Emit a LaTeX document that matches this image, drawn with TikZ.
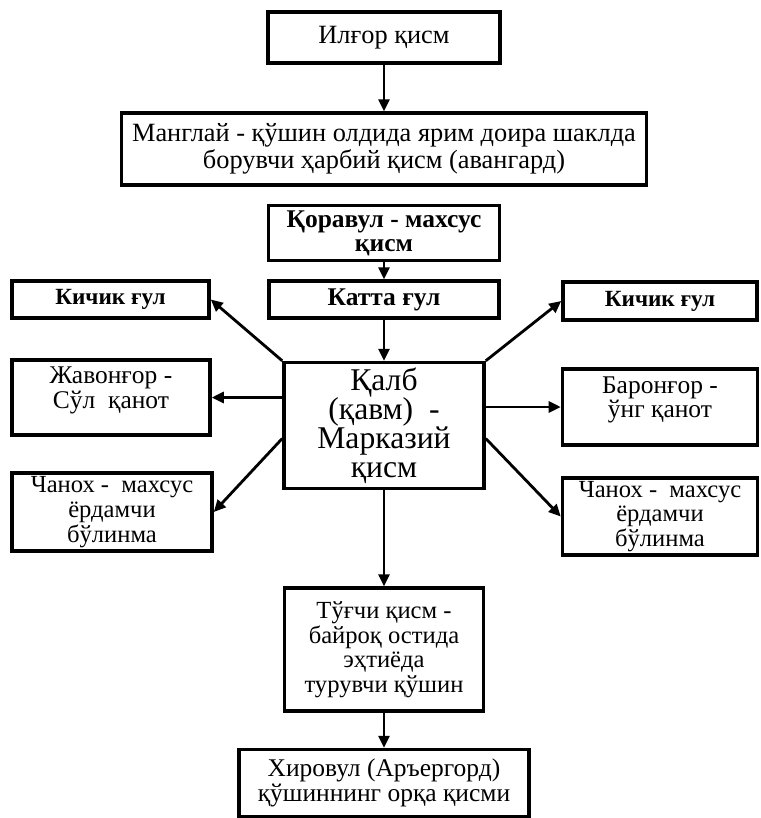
\documentclass[tikz,border=0pt]{standalone}
\usepackage{fontspec}
\setmainfont{Liberation Serif}
\usetikzlibrary{positioning,arrows.meta,calc}
\tikzset{
  flow/.style={-{Triangle[length=2.4mm,width=2.2mm]},line width=1.6pt,draw=black},
  box/.style={draw=black,line width=2pt,fill=white,align=center,inner sep=1pt,
    font=\fontsize{15}{15.3}\selectfont},
  midbox/.style={box,font=\fontsize{14.5}{14}\selectfont},
  smallbox/.style={box,font=\fontsize{14}{14}\selectfont},
  boldbox/.style={box,font=\fontsize{14.5}{13.6}\selectfont\bfseries},
  sidebold/.style={box,font=\fontsize{13.2}{14}\selectfont\bfseries},
  bigbox/.style={box,font=\fontsize{18}{16.5}\selectfont},
  toptext/.style={text depth=0.4cm}
}

\begin{document}
\begin{tikzpicture}[node distance=0.34cm]
  \useasboundingbox (0,0) rectangle (15.2,-16.36);
  \node[box,minimum width=4.64cm,minimum height=1.02cm] (ilgor) at (7.68,-0.75) {Илғор қисм};
  \node[box,below=0.93cm of ilgor,minimum width=10.5cm,minimum height=1.44cm] (manglay)
    {Манглай - қўшин олдида ярим доира шаклда\\борувчи ҳарбий қисм (авангард)};
  \node[boldbox,below=of manglay,minimum width=4.62cm,minimum height=1.1cm] (qoravul)
    {Қоравул - махсус\\қисм};
  \node[boldbox,below=of qoravul,minimum width=4.6cm,minimum height=0.74cm] (katta) {Катта ғул};
  \node[bigbox,below=0.82cm of katta,minimum width=4.0cm,minimum height=2.52cm] (qalb)
    {Қалб\\(қавм)~~-\\Марказий\\қисм};
  \node[smallbox,below=1.92cm of qalb,minimum width=3.98cm,minimum height=2.46cm] (tugchi)
    {Тўғчи қисм -\\байроқ остида\\эҳтиёда\\турувчи қўшин};
  \node[midbox,below=0.7cm of tugchi,minimum width=5.8cm,minimum height=1.34cm] (xirovul)
    {Хировул (Аръергорд)\\қўшиннинг орқа қисми};
  \node[sidebold,minimum width=3.94cm,minimum height=0.74cm] (lkichik) at (2.21,-5.99) {Кичик ғул};
  \node[midbox,toptext,minimum width=3.96cm,minimum height=1.5cm] (ljavon) at (2.22,-7.95)
    {Жавонғор -\\Сўл~~қанот};
  \node[smallbox,minimum width=4.0cm,minimum height=1.56cm] (lchanox) at (2.24,-10.24)
    {Чанох -~~махсус\\ёрдамчи\\бўлинма};
  \node[sidebold,minimum width=3.88cm,minimum height=0.76cm] (rkichik) at (13.2,-6.02) {Кичик ғул};
  \node[midbox,toptext,minimum width=3.9cm,minimum height=1.52cm] (rbaron) at (13.2,-8.14)
    {Баронғор -\\ўнг қанот};
  \node[smallbox,minimum width=3.9cm,minimum height=1.54cm] (rchanox) at (13.2,-10.33)
    {Чанох -~~махсус\\ёрдамчи\\бўлинма};
  \draw[flow] (ilgor.south) -- (manglay.north);
  \draw[flow] (qoravul.south) -- (katta.north);
  \draw[flow] (katta.south) -- (qalb.north);
  \draw[flow] (qalb.north west) -- (lkichik.east);
  \draw[flow] (ljavon.east -| qalb.west) -- (ljavon.east);
  \draw[flow] ($(qalb.north west)!0.6!(qalb.south west)$) -- (lchanox.east);
  \draw[flow] (qalb.north east) -- (rkichik.west);
  \draw[flow] (rbaron.west -| qalb.east) -- (rbaron.west);
  \draw[flow] ($(qalb.north east)!0.6!(qalb.south east)$) -- (rchanox.west);
  \draw[flow] (qalb.south) -- (tugchi.north);
  \draw[flow] (tugchi.south) -- (xirovul.north);
\end{tikzpicture}
\end{document}
